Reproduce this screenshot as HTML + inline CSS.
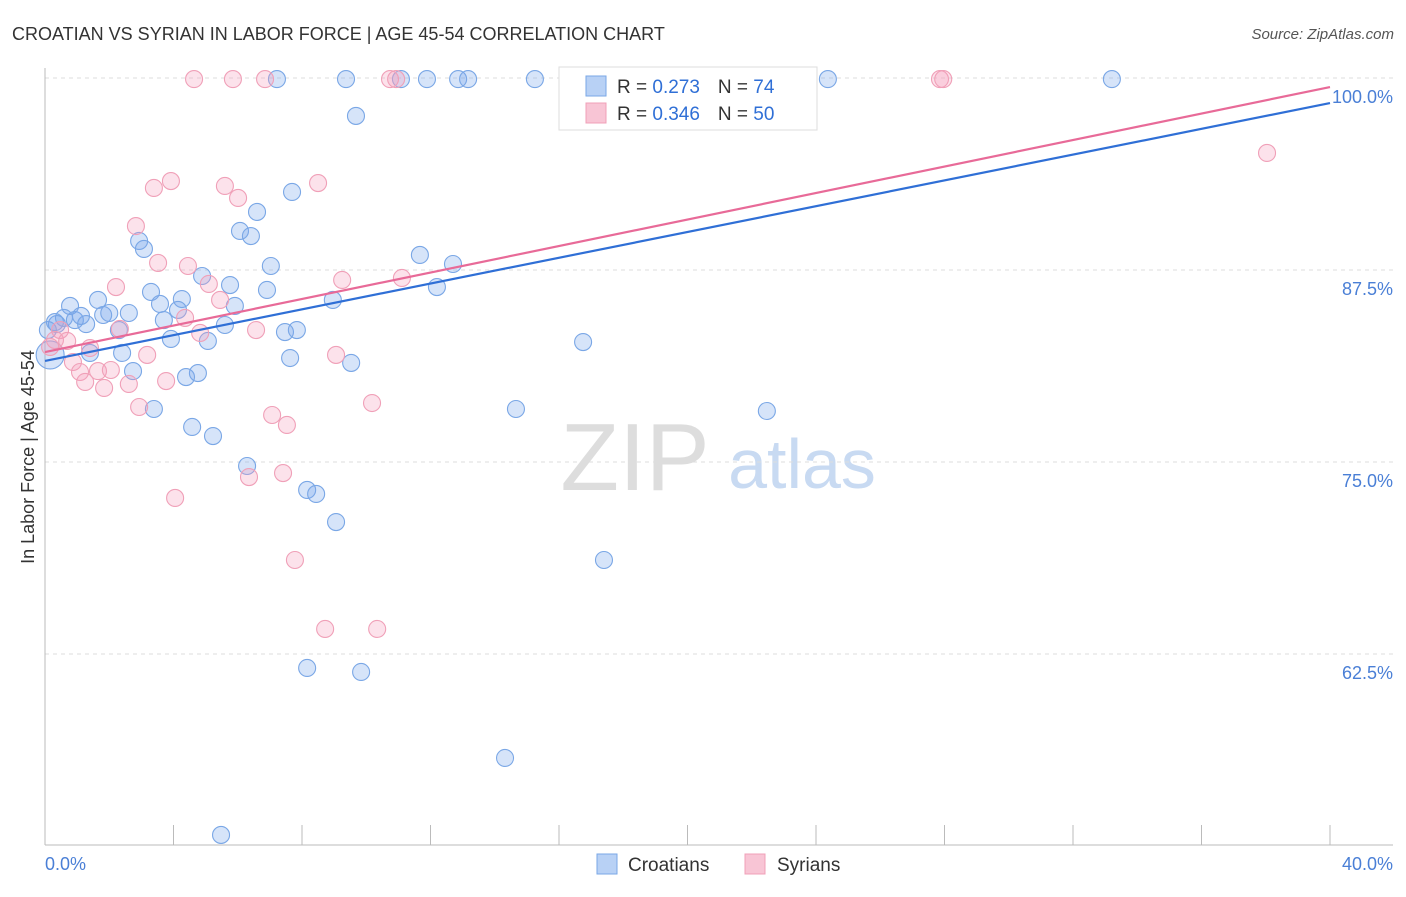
<!DOCTYPE html>
<html><head><meta charset="utf-8"><style>
body{margin:0;background:#fff;font-family:"Liberation Sans",sans-serif}
svg text{font-family:"Liberation Sans",sans-serif}
</style></head><body>
<svg id="chart" width="1406" height="892" xmlns="http://www.w3.org/2000/svg">
<text x="12" y="40" font-size="18" fill="#333">CROATIAN VS SYRIAN IN LABOR FORCE | AGE 45-54 CORRELATION CHART</text>
<text x="1394" y="39" font-size="15" fill="#555" font-style="italic" text-anchor="end">Source: ZipAtlas.com</text>
<g>
<text x="635" y="490" font-size="96" fill="#ddd" text-anchor="middle" font-family="Liberation Serif, serif">ZIP</text>
<text x="802" y="488" font-size="70" fill="#c8daf2" text-anchor="middle">atlas</text>
</g>
<g id="grid"></g><g id="axes"></g><g id="points"></g><g id="lines"></g>
<text transform="translate(34,457) rotate(-90)" font-size="18" fill="#333" text-anchor="middle">In Labor Force | Age 45-54</text>
<text x="45" y="870" font-size="18" fill="#4a7fd6">0.0%</text>
<text x="1393" y="870" font-size="18" fill="#4a7fd6" text-anchor="end">40.0%</text>
<g>
<rect x="559" y="67" width="258" height="63" fill="#fff" stroke="#ddd"/>
<rect x="586" y="76" width="20" height="20" fill="#b8d1f5" stroke="#7aa7e6"/>
<rect x="586" y="103" width="20" height="20" fill="#f8c5d5" stroke="#f0a0b8"/>
<text x="617" y="93" font-size="19" fill="#333">R = <tspan fill="#2f6fd6">0.273</tspan><tspan dx="18">N = </tspan><tspan fill="#2f6fd6">74</tspan></text>
<text x="617" y="120" font-size="19" fill="#333">R = <tspan fill="#2f6fd6">0.346</tspan><tspan dx="18">N = </tspan><tspan fill="#2f6fd6">50</tspan></text>
</g>
<g>
<rect x="597" y="854" width="20" height="20" fill="#b8d1f5" stroke="#7aa7e6"/>
<text x="628" y="871" font-size="19" fill="#333">Croatians</text>
<rect x="745" y="854" width="20" height="20" fill="#f8c5d5" stroke="#f0a0b8"/>
<text x="777" y="871" font-size="19" fill="#333">Syrians</text>
</g>
</svg>
<script>
const yTicks=[62.5,75,87.5,100];
const yTickLabels=["62.5%","75.0%","87.5%","100.0%"];
const xTicks=[0,4,8,12,16,20,24,28,32,36,40];
const croatX=[7.22,9.37,11.08,11.89,12.86,13.17,15.25,17.96,22.26,24.37,33.21,9.68,23.22,7.69,6.60,2.93,3.08,6.07,6.41,7.03,11.67,12.70,4.89,5.76,6.91,3.30,4.26,1.65,3.58,5.91,8.96,12.20,0.78,0.59,0.93,1.28,0.37,1.12,1.81,2.00,2.61,4.14,3.70,5.60,7.47,7.84,2.30,3.92,5.07,16.75,1.40,2.40,7.63,9.53,2.74,4.76,4.39,3.39,14.66,22.47,4.58,5.23,6.29,8.16,8.44,9.06,17.40,8.16,9.84,14.32,5.48,0.16,0.09,0.31];
const croatY=[99.93,99.93,99.93,99.93,99.93,99.93,99.93,99.93,99.93,99.93,99.93,97.53,98.05,92.58,91.28,89.39,88.87,90.04,89.71,87.76,88.48,87.89,87.11,86.52,86.20,86.07,85.61,85.55,85.29,85.16,85.55,86.39,85.16,84.38,84.24,83.98,83.98,84.51,84.57,84.70,84.70,84.90,84.24,83.92,83.46,83.59,83.59,83.01,82.88,82.81,82.10,82.10,81.77,81.45,80.92,80.79,80.53,78.45,78.45,78.32,77.28,76.69,74.74,73.18,72.92,71.09,68.62,61.59,61.33,55.73,50.72,81.97,83.59,84.11];
const syrX=[4.64,5.85,6.85,10.74,10.93,27.86,27.96,38.04,3.92,3.39,5.60,8.50,6.01,2.83,3.52,4.45,9.25,11.11,5.10,5.45,2.21,4.36,2.33,4.83,6.57,0.47,0.31,0.69,1.40,3.18,9.06,0.87,1.09,1.65,2.05,1.25,3.77,1.84,2.61,2.93,10.18,7.07,7.53,7.41,6.35,4.05,7.78,8.72,10.34,0.16];
const syrY=[99.93,99.93,99.93,99.93,99.93,99.93,99.93,95.12,93.29,92.84,92.97,93.16,92.19,90.36,87.96,87.76,86.85,86.98,86.59,85.55,86.39,84.38,83.66,83.40,83.59,83.59,82.94,82.88,82.42,81.97,81.97,81.51,80.86,80.92,80.99,80.21,80.27,79.82,80.08,78.58,78.84,78.06,77.41,74.28,74.02,72.66,68.62,64.13,64.13,82.49];
const trendBlue=[81.58,98.37];
const trendPink=[82.16,99.41];
const NS="http://www.w3.org/2000/svg";
const X0=45,X1=1330,YTOP=78;
function sx(v){return X0+(v/40)*(X1-X0);}
function sy(v){return YTOP+(100-v)*15.36;}
function mk(tag,attrs,parent){const e=document.createElementNS(NS,tag);for(const k in attrs)e.setAttribute(k,attrs[k]);parent.appendChild(e);return e;}
const grid=document.getElementById('grid'),axes=document.getElementById('axes'),pts=document.getElementById('points'),lines=document.getElementById('lines');
yTicks.forEach((t,i)=>{
 const l=mk('line',{x1:45,x2:1393,y1:sy(t),y2:sy(t),stroke:'#ddd','stroke-dasharray':'4,4'},grid);
 
 
 const tx=mk('text',{x:1393,y:sy(t)+25,'font-size':18,fill:'#4a7fd6','text-anchor':'end'},grid);
 tx.textContent=yTickLabels[i];
 
 
});
let a=mk('line',{x1:45,x2:45,y1:68,y2:845,stroke:'#bbb'},axes);


a=mk('line',{x1:45,x2:1393,y1:845,y2:845,stroke:'#bbb'},axes);


xTicks.forEach(t=>{
 const l=mk('line',{x1:sx(t),x2:sx(t),y1:825,y2:845,stroke:'#bbb'},axes);
 
 
});
function dots(xs,ys,fill,stroke,name){
 xs.forEach((x,i)=>{
  const r=(i===xs.length-3&&name==='croatian-point')?14:8.5;
  const c=mk('circle',{cx:sx(x),cy:sy(ys[i]),r:r,fill:fill,stroke:stroke,'stroke-width':1.1},pts);
  
  
 });
}
dots(croatX,croatY,'rgba(120,165,235,0.3)','#7aa7e6','croatian-point');
dots(syrX,syrY,'rgba(245,160,190,0.3)','#f0a0b8','syrian-point');
let t=mk('line',{x1:sx(0),y1:sy(trendBlue[0]),x2:sx(40),y2:sy(trendBlue[1]),stroke:'#2f6fd6','stroke-width':2.2},lines);


t=mk('line',{x1:sx(0),y1:sy(trendPink[0]),x2:sx(40),y2:sy(trendPink[1]),stroke:'#e86a98','stroke-width':2.2},lines);


</script>
</body></html>
